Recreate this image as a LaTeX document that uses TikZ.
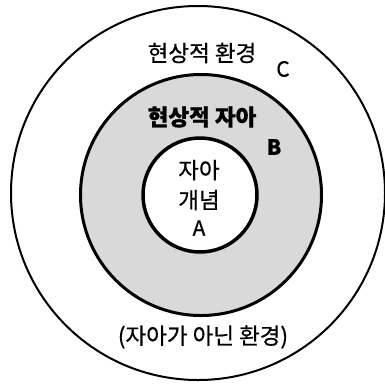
\documentclass[tikz,border=0pt]{standalone}
\usepackage{fontspec}
\setmainfont{Noto Sans CJK KR}[FakeBold=0.6]
\begin{document}
\begin{tikzpicture}[x=1pt,y=-1pt,
  ring/.style={circle, draw=black, inner sep=0pt},
  lbl/.style={font=\fontsize{22.5}{24}\selectfont, inner sep=0pt},
  letter/.style={font=\fontsize{21}{23}\selectfont, inner sep=0pt}]
\useasboundingbox (0,0) rectangle (385,384);
\fill[white] (0,0) rectangle (385,384);
\node[ring, line width=2pt, minimum size=374pt] (outer) at (198,193) {};
\node[ring, line width=3pt, fill=black!15, minimum size=241pt] (middle) at (201,195) {};
\node[ring, line width=3.5pt, fill=white, minimum size=114pt] (inner) at (200,195) {};
\node[lbl] (env) at (202,53) {현상적 환경};
\node[letter] (C) at (283,69) {C};
\node[lbl, font=\fontsize{22.5}{24}\selectfont\bfseries] (self) at (202,117) {현상적 자아};
\node[letter, font=\fontsize{21}{23}\selectfont\bfseries] (B) at (274,147) {B};
\node[lbl] (ja) at (199,170) {자아};
\node[lbl] (gn) at (199,200) {개념};
\node[letter] (A) at (199,228) {A};
\node[lbl] (nonself) at (203,337) {(자아가 아닌 환경)};
\end{tikzpicture}
\end{document}
